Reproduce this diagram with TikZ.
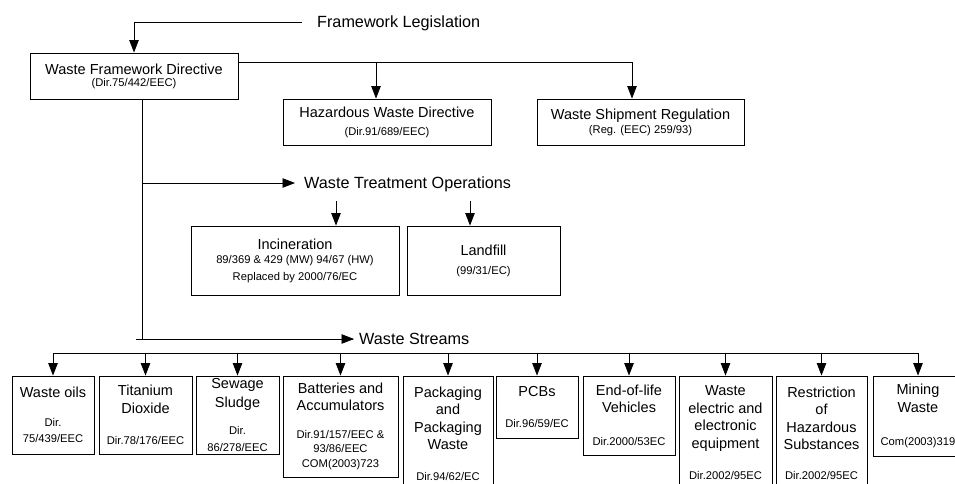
\documentclass[tikz,border=0pt]{standalone}
\usepackage{fontspec}
\setmainfont{Liberation Sans}
\usetikzlibrary{arrows.meta}
\newcommand\smtxt{\fontsize{11.2}{13}\selectfont}
\tikzset{
  box/.style={draw=black, line width=0.9pt, align=center, inner sep=0pt,
    font=\fontsize{14.5}{17.5}\selectfont},
  head/.style={inner sep=0pt, text height=11.5pt, text depth=0pt,
    font=\fontsize{16.2}{19}\selectfont},
  conn/.style={line width=0.8pt, draw=black},
  arr/.style={conn, -{Triangle[length=12.5pt,width=9.5pt]}},
}
\begin{document}
\begin{tikzpicture}[x=1pt,y=-1pt]
\useasboundingbox (0,0) rectangle (955,484);
\clip (0,0) rectangle (955,484);

% headings
\node[head, anchor=west] (fl) at (317,22) {Framework Legislation};
\node[head, anchor=west] (wto) at (304,183) {Waste Treatment Operations};
\node[head, anchor=west] (ws) at (359,339) {Waste Streams};

% top level
\node[box, minimum width=208pt, minimum height=46pt] (wfd) at (134,76)
  {Waste Framework Directive\\[-5.5pt]{\smtxt (Dir.75/442/EEC)}};
\node[box, minimum width=208pt, minimum height=46pt] (hz) at (387,122)
  {Hazardous Waste Directive\\[0.5pt]{\smtxt (Dir.91/689/EEC)}};
\node[box, minimum width=207pt, minimum height=46pt] (sh) at (640.5,122)
  {Waste Shipment Regulation\\[-3.5pt]{\smtxt (Reg. (EEC) 259/93)}};

% treatment operations
\node[box, minimum width=208pt, minimum height=69pt] (inc) at (295,260.5)
  {Incineration\\[-3.5pt]{\smtxt 89/369 \& 429 (MW) 94/67 (HW)}\\[-0.5pt]{\smtxt Replaced by 2000/76/EC}};
\node[box, minimum width=153pt, minimum height=69pt] (lf) at (483.5,260.5)
  {Landfill\\[1.5pt]{\smtxt (99/31/EC)}};

% waste streams
\node[box, minimum width=82pt, minimum height=78pt] (wo) at (53,415)
  {Waste oils\\[11.5pt]{\smtxt Dir.}\\[-1.5pt]{\smtxt 75/439/EEC}};
\node[box, minimum width=93pt, minimum height=78pt] (ti) at (145.5,415)
  {Titanium\\Dioxide\\[13.5pt]{\smtxt Dir.78/176/EEC}};
\node[box, minimum width=83pt, minimum height=78pt] (ss) at (237.5,415)
  {Sewage\\[1pt]Sludge\\[9.5pt]{\smtxt Dir.}\\[-0.5pt]{\smtxt 86/278/EEC}};
\node[box, minimum width=115pt, minimum height=101pt] (ba) at (340.5,426.5)
  {Batteries and\\Accumulators\\[10.5pt]{\smtxt Dir.91/157/EEC \&}\\[-3.5pt]{\smtxt 93/86/EEC}\\[-2.5pt]{\smtxt COM(2003)723}};
\node[box, minimum width=90pt, minimum height=116pt] (pk) at (448,434)
  {Packaging\\and\\Packaging\\Waste\\[13.5pt]{\smtxt Dir.94/62/EC}};
\node[box, minimum width=82pt, minimum height=62pt] (pc) at (537,407)
  {PCBs\\[13.5pt]{\smtxt Dir.96/59/EC}};
\node[box, minimum width=92pt, minimum height=79pt] (el) at (629,415.5)
  {End-of-life\\Vehicles\\[15.5pt]{\smtxt Dir.2000/53EC}};
\node[box, minimum width=93pt, minimum height=113pt] (we) at (725.5,432.5)
  {Waste\\electric and\\electronic\\equipment\\[13.5pt]{\smtxt Dir.2002/95EC}};
\node[box, minimum width=91pt, minimum height=115pt] (ro) at (821.5,433.5)
  {Restriction\\of\\Hazardous\\Substances\\[12.5pt]{\smtxt Dir.2002/95EC}};
\node[box, minimum width=90pt, minimum height=80pt] (mi) at (918,416)
  {Mining\\Waste\\[15.5pt]{\smtxt Com(2003)319}};

% connectors
\draw[arr] ([xshift=-15pt]fl.west) -| (wfd.north);
\coordinate (wr) at ([yshift=-10pt]wfd.north east);
\draw[arr] (wr) -| ([xshift=-8.5pt]sh.north);
\draw[arr] ([xshift=-11pt]hz.north |- wr) -- ([xshift=-11pt]hz.north);

\coordinate (trunk) at ([xshift=8pt]wfd.south);
\draw[conn] (trunk) |- ([xshift=-6pt]ws.west);
\draw[arr] (trunk |- wto.west) -- ([xshift=-9pt]wto.west);
\draw[arr] ([xshift=-6pt]ws.west -| trunk) -- ([xshift=-5pt]ws.west);

\coordinate (ti1) at (336,201);
\coordinate (tl1) at (470,201);
\draw[arr] (ti1) -- (ti1 |- inc.north);
\draw[arr] (tl1) -- (tl1 |- lf.north);

\coordinate (bus) at (0,353);
\draw[conn] (wo.north |- bus) -- (mi.north |- bus);
\foreach \b in {wo,ti,ss,ba,pk,pc,el,we,ro,mi}
  \draw[arr] (\b.north |- bus) -- (\b.north);
\end{tikzpicture}
\end{document}
